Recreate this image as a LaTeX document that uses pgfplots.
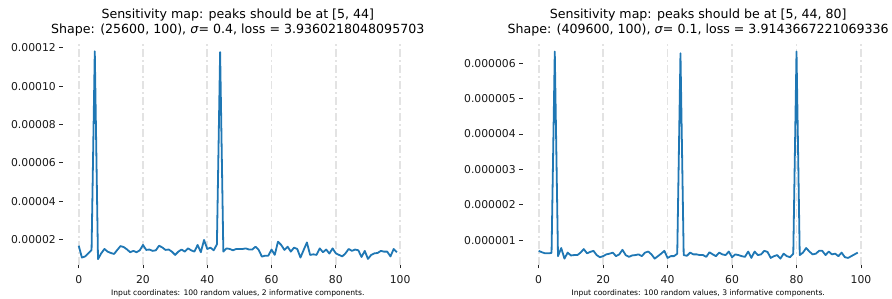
\documentclass[border=0pt]{standalone}
\usepackage{pgfplots}
\pgfplotsset{compat=1.18}
\usepackage{pgfplotstable}
\usepackage{fontspec}
\setmainfont{DejaVu Sans}
\definecolor{c0}{HTML}{1F77B4}
\definecolor{gridc}{HTML}{E3E3E3}

% left: values in units of 1e-5
\pgfplotstableread{
i v
0 1.67
1 1.05
2 1.11
3 1.27
4 1.45
5 11.82
6 0.97
7 1.27
8 1.50
9 1.36
10 1.29
11 1.24
12 1.45
13 1.65
14 1.60
15 1.48
16 1.33
17 1.40
18 1.33
19 1.43
20 1.71
21 1.45
22 1.47
23 1.40
24 1.43
25 1.67
26 1.58
27 1.45
28 1.47
29 1.36
30 1.19
31 1.36
32 1.47
33 1.36
34 1.53
35 1.43
36 1.36
37 1.71
38 1.33
39 1.97
40 1.50
41 1.57
42 1.43
43 1.74
44 11.78
45 1.36
46 1.53
47 1.50
48 1.43
49 1.50
50 1.50
51 1.50
52 1.53
53 1.47
54 1.47
55 1.62
56 1.45
57 1.10
58 1.15
59 1.15
60 1.47
61 1.19
62 1.88
63 1.71
64 1.45
65 1.62
66 1.36
67 1.57
68 1.50
69 1.05
70 1.45
71 1.84
72 1.19
73 1.22
74 1.19
75 1.53
76 1.33
77 1.47
78 1.26
79 1.53
80 1.27
81 1.19
82 1.11
83 1.27
84 1.50
85 1.40
86 1.47
87 1.43
88 1.08
89 1.40
90 0.98
91 1.19
92 1.27
93 1.29
94 1.40
95 1.36
96 1.36
97 1.11
98 1.50
99 1.33
}\lefttab

% right: values in units of 1e-6
\pgfplotstableread{
i v
0 0.70
1 0.66
2 0.63
3 0.63
4 0.64
5 6.33
6 0.55
7 0.78
8 0.48
9 0.65
10 0.57
11 0.58
12 0.58
13 0.65
14 0.75
15 0.63
16 0.67
17 0.70
18 0.58
19 0.52
20 0.55
21 0.60
22 0.62
23 0.65
24 0.55
25 0.60
26 0.73
27 0.58
28 0.53
29 0.57
30 0.58
31 0.60
32 0.55
33 0.65
34 0.68
35 0.60
36 0.48
37 0.55
38 0.62
39 0.70
40 0.50
41 0.55
42 0.55
43 0.62
44 6.28
45 0.58
46 0.56
47 0.65
48 0.60
49 0.60
50 0.58
51 0.58
52 0.53
53 0.66
54 0.60
55 0.55
56 0.65
57 0.60
58 0.58
59 0.68
60 0.52
61 0.60
62 0.58
63 0.55
64 0.53
65 0.68
66 0.50
67 0.68
68 0.58
69 0.60
70 0.70
71 0.67
72 0.50
73 0.55
74 0.58
75 0.48
76 0.62
77 0.55
78 0.52
79 0.62
80 6.33
81 0.58
82 0.65
83 0.78
84 0.68
85 0.60
86 0.62
87 0.70
88 0.70
89 0.58
90 0.68
91 0.60
92 0.62
93 0.55
94 0.65
95 0.52
96 0.50
97 0.55
98 0.60
99 0.65
}\righttab

\newcommand{\titlefont}{\fontsize{12.6}{15}\selectfont}
\pgfplotsset{
  mystyle/.style={
    scale only axis,
    height=223.3pt,
    xmin=-4.95, xmax=103.95,
    axis x line*=bottom, axis y line*=left,
    axis line style={draw=none},
    xtick={0,20,40,60,80,100},
    tick align=outside,
    major tick length=3.5pt,
    tick style={black!85, line width=0.8pt},
    xmajorgrids,
    major grid style={gridc, line width=1.8pt, dash pattern=on 8pt off 3pt on 2pt off 3pt},
    /pgf/number format/assume math mode=true,
    ticklabel style={font=\fontsize{10.8}{12}\selectfont, text=black!90},
    xticklabel style={yshift=-3pt},
    title style={at={(0.5,1)}, anchor=south, yshift=-4pt, align=center, font=\titlefont},
    xlabel style={at={(axis description cs:0.5,0)}, anchor=base, yshift=-31pt, font=\fontsize{7.6}{9}\selectfont},
    clip=false,
  },
}

\begin{document}
\begin{tikzpicture}[x=1pt,y=1pt]
\useasboundingbox (0,0) rectangle (892,299);
\begin{axis}[mystyle,
  at={(62.8pt,34pt)}, anchor=south west,
  width=350pt,
  ymin=0.663, ymax=12.32,
  ytick={2,4,6,8,10,12},
  yticklabels={0.00002,0.00004,0.00006,0.00008,0.00010,0.00012},
  title={\titlefont Sensitivity map: peaks should be at [5, 44]\\\titlefont Shape: (25600, 100), \textit{σ}=\ 0.4, loss = 3.9360218048095703},
  xlabel={Input coordinates: 100 random values, 2 informative components.},
]
\addplot[c0, line width=1.8pt, line join=round] table[x=i, y=v] {\lefttab};
\end{axis}
\begin{axis}[mystyle,
  at={(522.7pt,34pt)}, anchor=south west,
  width=351pt,
  ymin=0.30, ymax=6.61,
  ytick={1,2,3,4,5,6},
  yticklabels={0.000001,0.000002,0.000003,0.000004,0.000005,0.000006},
  title={\titlefont Sensitivity map: peaks should be at [5, 44, 80]\\\titlefont Shape: (409600, 100), \textit{σ}=\ 0.1, loss = 3.9143667221069336},
  xlabel={Input coordinates: 100 random values, 3 informative components.},
]
\addplot[c0, line width=1.8pt, line join=round] table[x=i, y=v] {\righttab};
\end{axis}
\end{tikzpicture}
\end{document}
